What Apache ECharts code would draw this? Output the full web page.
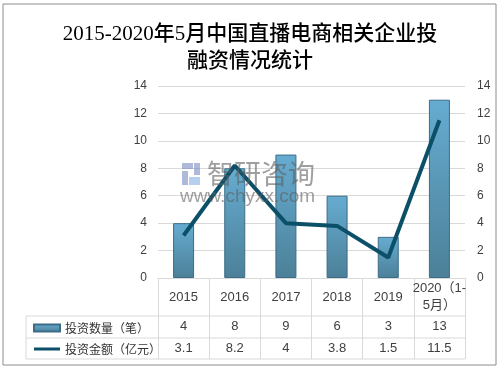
<!DOCTYPE html>
<html>
<head>
<meta charset="utf-8">
<script src="https://cdn.jsdelivr.net/npm/echarts@6/dist/echarts.min.js"></script>
<style>html,body{margin:0;padding:0;background:#fff}#c{width:500px;height:370px}</style>
</head>
<body>
<div id="c"></div>
<script>
const categories = ['2015', '2016', '2017', '2018', '2019', '2020（1-\n5月）'];
const counts = [4, 8, 9, 6, 3, 13];
const amounts = [3.1, 8.2, 4, 3.8, 1.5, 11.5];
const seriesNames = ['投资数量（笔）', '投资金额（亿元）'];
const titleText = '2015-2020年5月中国直播电商相关企业投\n融资情况统计';
const yMin = 0, yMax = 14, yInterval = 2;

const chart = echarts.init(document.getElementById('c'), null, {renderer: 'canvas'});
const gridLine = '#d9d9d9';
const textColor = '#404040';
const lineColor = '#0b5068';
const numFont = "'Liberation Sans', 'Noto Sans CJK SC', sans-serif";
const cjkFont = "'Noto Sans CJK SC', sans-serif";

const tableLines = [
  {type: 'line', shape: {x1: 26, y1: 316, x2: 465, y2: 316}},
  {type: 'line', shape: {x1: 26, y1: 338, x2: 465, y2: 338}},
  {type: 'line', shape: {x1: 26, y1: 359, x2: 465, y2: 359}},
  {type: 'line', shape: {x1: 26, y1: 316, x2: 26, y2: 359}}
].map(g => Object.assign(g, {style: {stroke: gridLine, lineWidth: 1}, silent: true, z: 1}));

const option = {
  animation: false,
  backgroundColor: '#fff',
  title: {
    text: titleText,
    left: 'center',
    top: 16,
    textStyle: {
      fontSize: 21, fontWeight: 500, color: '#000',
      fontFamily: "'Liberation Serif', 'Noto Sans CJK SC', serif",
      lineHeight: 27
    }
  },
  legend: {
    orient: 'vertical',
    left: 28,
    top: 316,
    itemWidth: 26,
    itemHeight: 7,
    itemGap: 7,
    textStyle: {fontSize: 12, color: '#333', fontFamily: cjkFont, lineHeight: 14},
    data: [
      {name: seriesNames[0], icon: 'rect'},
      {name: seriesNames[1], icon: 'path://M0,2 L26,2 L26,5 L0,5 Z M0,0 L0.01,0 L0.01,7 L0,7 Z', itemStyle: {color: lineColor, borderWidth: 0}}
    ]
  },
  grid: {left: 158, right: 35, top: 86, bottom: 92},
  xAxis: [
    {
      type: 'category', position: 'bottom', data: categories,
      axisLine: {show: true, lineStyle: {color: gridLine}},
      axisTick: {show: true, length: 81, interval: 0, lineStyle: {color: gridLine}},
      axisLabel: {interval: 0, margin: 19, verticalAlign: 'middle', fontSize: 13, lineHeight: 17, color: textColor, fontFamily: numFont}
    },
    {
      type: 'category', position: 'bottom', data: counts.map(String),
      axisLine: {show: false}, axisTick: {show: false},
      axisLabel: {interval: 0, margin: 48, verticalAlign: 'middle', fontSize: 13, color: textColor, fontFamily: numFont}
    },
    {
      type: 'category', position: 'bottom', data: amounts.map(String),
      axisLine: {show: false}, axisTick: {show: false},
      axisLabel: {interval: 0, margin: 70, verticalAlign: 'middle', fontSize: 13, color: textColor, fontFamily: numFont}
    }
  ],
  yAxis: [
    {
      type: 'value', min: yMin, max: yMax, interval: yInterval, position: 'left',
      axisLine: {show: false}, axisTick: {show: false},
      splitLine: {lineStyle: {color: gridLine}},
      axisLabel: {margin: 11, fontSize: 12, color: textColor, fontFamily: numFont}
    },
    {
      type: 'value', min: yMin, max: yMax, interval: yInterval, position: 'right',
      axisLine: {show: false}, axisTick: {show: false},
      splitLine: {show: false},
      axisLabel: {margin: 12, fontSize: 12, color: textColor, fontFamily: numFont}
    }
  ],
  series: [
    {
      name: seriesNames[0], type: 'bar', xAxisIndex: 0, yAxisIndex: 0,
      data: counts, barWidth: 21, z: 2,
      itemStyle: {
        color: new echarts.graphic.LinearGradient(0, 0, 0, 1, [
          {offset: 0, color: '#66acd1'},
          {offset: 1, color: '#4c8098'}
        ]),
        borderColor: '#3b6d86', borderWidth: 1
      }
    },
    {
      name: seriesNames[1], type: 'line', xAxisIndex: 0, yAxisIndex: 1,
      data: amounts, symbol: 'none', z: 3,
      lineStyle: {color: lineColor, width: 4},
      itemStyle: {color: lineColor}
    }
  ],
  graphic: [
    {type: 'rect', shape: {x: 3, y: 4, width: 493, height: 361}, style: {fill: 'none', stroke: '#8c8c8c', lineWidth: 1}, silent: true, z: 0},
    ...tableLines,
    {type: 'rect', shape: {x: 182, y: 163, width: 11, height: 6}, style: {fill: 'rgba(110,130,190,0.55)'}, z: 10, silent: true},
    {type: 'rect', shape: {x: 194, y: 163, width: 6, height: 12}, style: {fill: 'rgba(110,130,190,0.55)'}, z: 10, silent: true},
    {type: 'rect', shape: {x: 182, y: 171, width: 6, height: 14}, style: {fill: 'rgba(110,130,190,0.55)'}, z: 10, silent: true},
    {type: 'rect', shape: {x: 189, y: 177, width: 11, height: 8}, style: {fill: 'rgba(120,170,220,0.55)'}, z: 10, silent: true},
    {type: 'text', left: 207, top: 160, style: {text: '智研咨询', fontSize: 27, fill: 'rgba(95,95,95,0.6)', fontFamily: cjkFont}, z: 10, silent: true},
    {type: 'text', left: 180, top: 187, style: {text: 'www.chyxx.com', fontSize: 19, fill: 'rgba(95,95,95,0.6)', fontFamily: "'Liberation Sans', sans-serif"}, z: 10, silent: true}
  ]
};
chart.setOption(option);
</script>
</body>
</html>
